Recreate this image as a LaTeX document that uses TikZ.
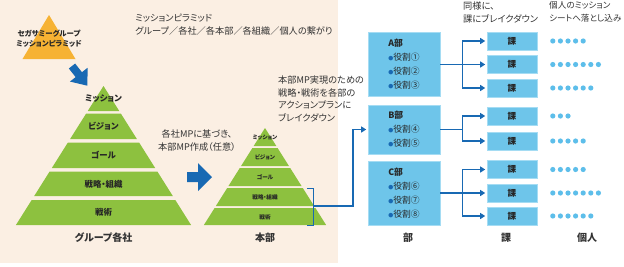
\documentclass[tikz,border=0pt]{standalone}
\usepackage{fontspec}
\setmainfont{Noto Sans CJK JP}[RawFeature=+palt]
\newfontfamily\fullw{Noto Sans CJK JP}
\usepackage{xcolor}
\definecolor{mpbeige}{RGB}{251,239,227}
\definecolor{mpgreen}{RGB}{141,193,63}
\definecolor{mporange}{RGB}{246,178,51}
\definecolor{mpblue}{RGB}{24,105,179}
\definecolor{mpsky}{RGB}{110,197,234}
\definecolor{mpskyedge}{RGB}{165,220,243}
\definecolor{mpdot}{RGB}{93,190,234}
\definecolor{mptext}{RGB}{51,51,51}
\usepackage{tikz}
\usetikzlibrary{arrows.meta, positioning, calc}
% one trapezoid layer: centre x, apex y, slope, top y, bottom y
\newcommand{\pyrlayer}[5]{%
  \fill[mpgreen] ({#1-#3*(#4-#2)},#4) -- ({#1+#3*(#4-#2)},#4)
    -- ({#1+#3*(#5-#2)},#5) -- ({#1-#3*(#5-#2)},#5) -- cycle;}
\newcommand{\bul}{{\color{mpblue}\fontsize{5}{5}\selectfont ●}}
\newcommand{\fsl}{{\fullw ／}}
\tikzset{
  fatarrow/.pic={\fill[mpblue] (0,-#1) -- (11,-#1) -- (11,{-2.8*#1}) -- (25,0)
    -- (11,{2.8*#1}) -- (11,#1) -- (0,#1) -- cycle;},
  note/.style={text=mptext, align=left, anchor=west, inner sep=0pt,
               font=\fontsize{9.2}{13}\selectfont},
  pyrlabel/.style={text=black!85, inner sep=0pt, font=\fontsize{8.4}{9}\selectfont\bfseries},
  pyrsmall/.style={text=black!85, inner sep=0pt, font=\fontsize{5.6}{6}\selectfont\bfseries},
  caption/.style={text=mptext, inner sep=0pt, font=\fontsize{10}{11}\selectfont\bfseries},
  bubox/.style={draw=mpskyedge, fill=mpsky, line width=0.6pt, minimum width=72pt,
                align=left, text=black!85, font=\fontsize{8.8}{14}\selectfont},
  kabox/.style={draw=mpskyedge, fill=mpsky, line width=0.6pt, minimum width=50pt,
                minimum height=18pt, inner sep=0pt, text=black!85,
                font=\fontsize{8.6}{9}\selectfont\bfseries},
  link/.style={draw=mpblue, line width=1.2pt},
  arr/.style={-{Triangle[length=5pt,width=6pt]}, shorten >=1.5pt}
}
\begin{document}
\begin{tikzpicture}[x=1pt, y=-1pt]
  \useasboundingbox (0,0) rectangle (624,266);
  % Beige panel on the left
  \fill[mpbeige] (0,0) rectangle (338,263);
  % Group pyramid (orange)
  \fill[mporange] (49,15) -- (75.5,59) -- (22.5,59) -- cycle;
  \node[pyrlabel, align=center, font=\fontsize{7.4}{10.5}\selectfont\bfseries]
       (sega) at (49,38.5) {セガサミーグループ\\ミッションピラミッド};
  \node[note] (title) at (135,25) {ミッションピラミッド\\グループ\fsl{}各社\fsl{}各本部\fsl{}各組織\fsl{}個人の繋がり};
  \pic[rotate=-52] at (72,66) {fatarrow=4};
  % Big pyramid: group companies
  \foreach \t/\b/\ly/\lab/\nm in {86/111/99/ミッション/mis, 113.5/139/126.5/ビジョン/vis,
      142.5/168/155.5/ゴール/goal, 171.5/196/184/戦略・組織/str, 200/225/212.5/戦術/tac}{
    \pyrlayer{103.5}{86}{0.63}{\t}{\b}
    \node[pyrlabel] (g-\nm) at (103.5,\ly) {\lab};
  }
  \node[caption] (gcap) at (103.5,238) {グループ各社};
  % Arrow to the division pyramid
  \node[note, align=center, anchor=center] (basis) at (197,141) {各社MPに基づき、\\本部MP作成（任意）};
  \pic at (187,177) {fatarrow=5};
  % Small pyramid: division
  \foreach \t/\b/\ly/\lab/\nm in {128/146/138/ミッション/mis, 148/166/157.5/ビジョン/vis,
      168/186/177.5/ゴール/goal, 188/206/197.5/戦略・組織/str, 208/225/217/戦術/tac}{
    \pyrlayer{265}{128}{0.63}{\t}{\b}
    \node[pyrsmall] (h-\nm) at (265,\ly) {\lab};
  }
  \node[caption] (hcap) at (265,238) {本部};
  \node[note, font=\fontsize{9.2}{12.8}\selectfont] (plan) at (278,99)
       {本部MP実現のための\\戦略・戦術を各部の\\アクションプランに\\ブレイクダウン};
  % Departments
  \node[bubox, minimum height=64pt] (abox) at (404,64.5)
       {\textbf{A部}\\\bul{}役割①\\\bul{}役割②\\\bul{}役割③};
  \node[bubox, minimum height=49pt] (bbox) at (404,129.5)
       {\textbf{B部}\\\bul{}役割④\\\bul{}役割⑤};
  \node[bubox, minimum height=64pt] (cbox) at (404,193)
       {\textbf{C部}\\\bul{}役割⑥\\\bul{}役割⑦\\\bul{}役割⑧};
  % Bracket on strategy/tactics layers
  \coordinate (brtop) at (313,188);
  \coordinate (brbot) at (313,225);
  \coordinate (brmid) at (313,206);
  \draw[link, line width=1pt] ([xshift=-6pt]brtop) -- (brtop) -- (brbot) -- ([xshift=-6pt]brbot);
  \draw[link, arr] (brmid) -- ++(40,0) |- (bbox.west);
  % Sections
  \foreach \n/\y in {1/41, 2/64.5, 3/88, 4/116, 5/141, 6/169.5, 7/193, 8/216}
    \node[kabox] (k\n) at (512,\y) {課};
  \draw[link, arr] (abox.east) -- ++(22,0) |- (k1.west);
  \draw[link, arr] (abox.east) -- (k2.west);
  \draw[link, arr] (abox.east) -- ++(22,0) |- (k3.west);
  \draw[link, arr] (bbox.east) -- ++(22,0) |- (k4.west);
  \draw[link, arr] (bbox.east) -- ++(22,0) |- (k5.west);
  \draw[link, arr] (cbox.east) -- ++(22,0) |- (k6.west);
  \draw[link, arr] (cbox.east) -- (k7.west);
  \draw[link, arr] (cbox.east) -- ++(22,0) |- (k8.west);
  % Individuals
  \foreach \r/\cnt in {1/5, 2/7, 3/6, 4/3, 5/5, 6/5, 7/7, 8/6}
    \foreach \i in {1,...,\cnt}
      \fill[mpdot] ($(k\r.east)+({15.5+7.6*(\i-1)},0)$) circle (2.6pt);
  % Column headers and captions
  \node[note] (samehead) at (463,12) {同様に、\\課にブレイクダウン};
  \node[note, font=\fontsize{8.6}{13}\selectfont] (indhead) at (549,12) {個人のミッション\\シートへ落とし込み};
  \node[caption] (bucap) at (408,238) {部};
  \node[caption] (kacap) at (506,238) {課};
  \node[caption] (indcap) at (587,238) {個人};
\end{tikzpicture}
\end{document}
